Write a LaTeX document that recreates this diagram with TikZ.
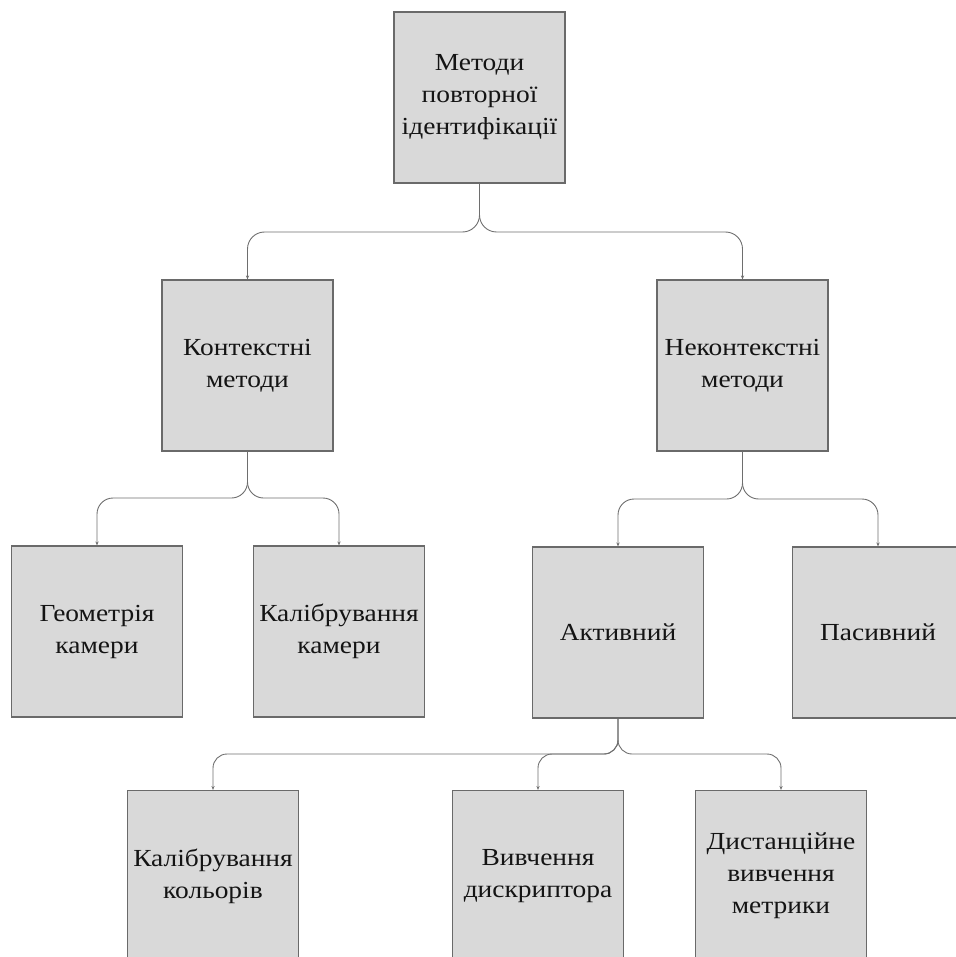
\documentclass[tikz,border=0pt]{standalone}
\usepackage{fontspec}
\setmainfont[FakeStretch=1.12]{Liberation Serif}
\usetikzlibrary{arrows.meta}
\definecolor{boxfill}{HTML}{D9D9D9}
\definecolor{boxline}{HTML}{6A6A6A}
\definecolor{linkline}{HTML}{6E6E6E}
\definecolor{labeltext}{HTML}{141414}
\tikzset{
  catbox/.style={draw=boxline, line width=1.1pt, fill=boxfill,
    minimum width=171pt, minimum height=171pt, inner sep=2pt,
    align=center, text=labeltext,
    font=\fontsize{24.5}{32}\selectfont},
  link/.style={draw=linkline, line width=0.9pt,
    -{Stealth[length=4pt,width=3.2pt]}},
}
\begin{document}
\begin{tikzpicture}[x=1pt,y=-1pt]
\useasboundingbox (0,0) rectangle (955,957);

% tree nodes
\node[catbox] (root)   at (479.5,97.5)  {Методи\\повторної\\ідентифікації};
\node[catbox] (ctx)    at (247.5,365.5) {Контекстні\\методи};
\node[catbox] (nctx)   at (742.5,365.5) {Неконтекстні\\методи};
\node[catbox] (geom)   at (97,631.5)    {Геометрія\\камери};
\node[catbox] (calcam) at (339,631.5)   {Калібрування\\камери};
\node[catbox] (act)    at (618,632.5)   {Активний};
\node[catbox] (pas)    at (878,632.5)   {Пасивний};
\node[catbox] (calcol) at (213,876)     {Калібрування\\кольорів};
\node[catbox] (desc)   at (538,876)     {Вивчення\\дискриптора};
\node[catbox] (metric) at (781,876)     {Дистанційне\\вивчення\\метрики};

% connectors: down, across, down into the child
\draw[link, rounded corners=17pt] (root.south) -- (root.south |- 0,232) -- (ctx.north |- 0,232) -- (ctx.north);
\draw[link, rounded corners=17pt] (root.south) -- (root.south |- 0,232) -- (nctx.north |- 0,232) -- (nctx.north);

\draw[link, rounded corners=16pt] (ctx.south) -- (ctx.south |- 0,498) -- (geom.north |- 0,498) -- (geom.north);
\draw[link, rounded corners=16pt] (ctx.south) -- (ctx.south |- 0,498) -- (calcam.north |- 0,498) -- (calcam.north);

\draw[link, rounded corners=16pt] (nctx.south) -- (nctx.south |- 0,499) -- (act.north |- 0,499) -- (act.north);
\draw[link, rounded corners=16pt] (nctx.south) -- (nctx.south |- 0,499) -- (pas.north |- 0,499) -- (pas.north);

\draw[link, rounded corners=14pt] (act.south) -- (act.south |- 0,754) -- (calcol.north |- 0,754) -- (calcol.north);
\draw[link, rounded corners=14pt] (act.south) -- (act.south |- 0,754) -- (desc.north |- 0,754) -- (desc.north);
\draw[link, rounded corners=14pt] (act.south) -- (act.south |- 0,754) -- (metric.north |- 0,754) -- (metric.north);
\end{tikzpicture}
\end{document}
